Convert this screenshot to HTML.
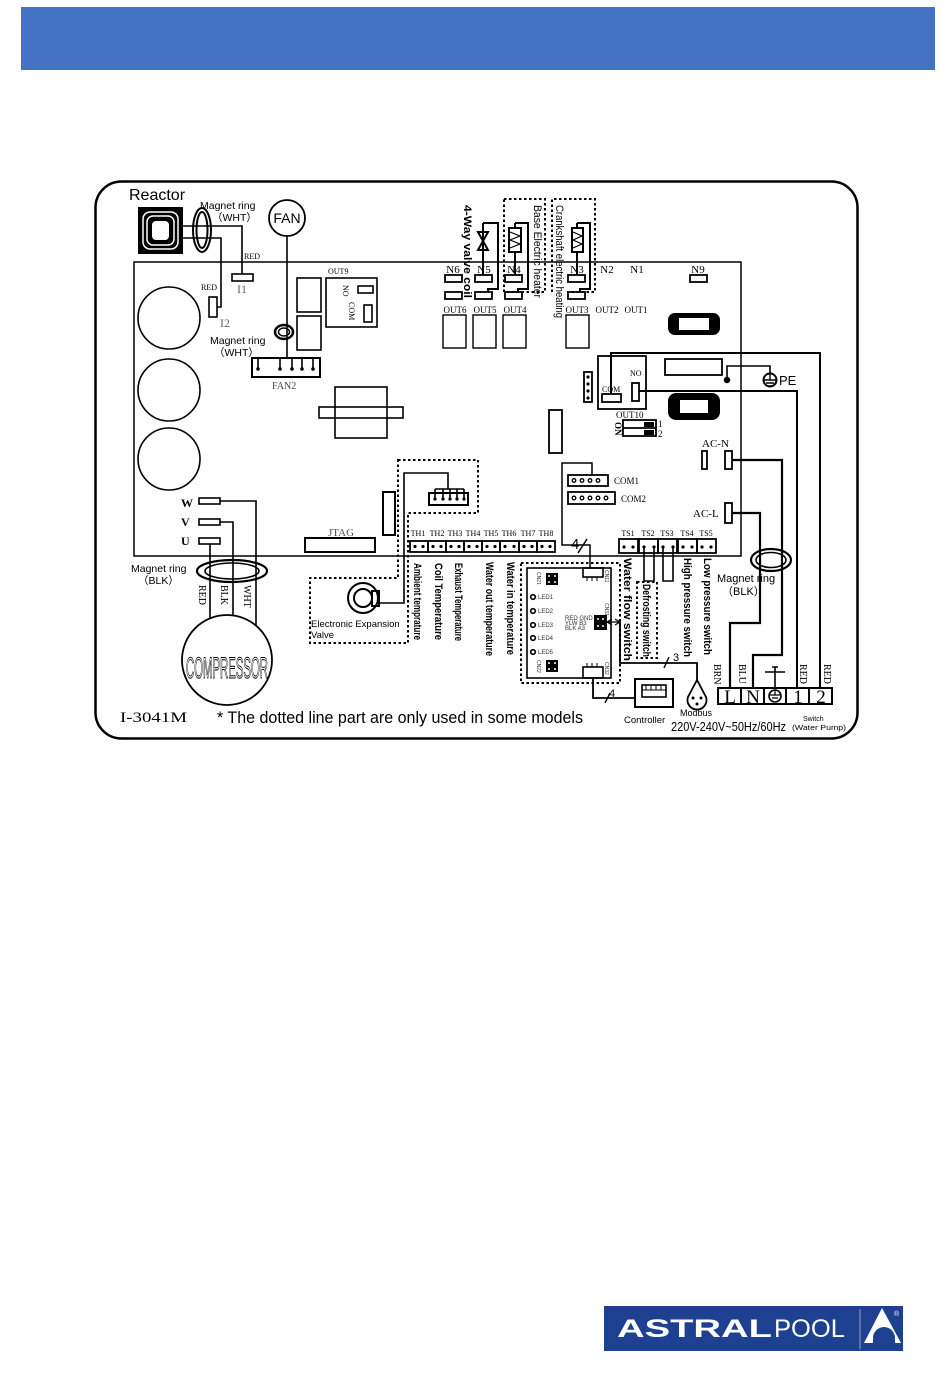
<!DOCTYPE html>
<html><head><meta charset="utf-8">
<style>
html,body{margin:0;padding:0;background:#fff;width:950px;height:1387px;overflow:hidden}
svg{display:block}
.sa{font-family:"Liberation Sans",sans-serif}
.se{font-family:"Liberation Serif",serif}
</style></head><body>
<svg width="950" height="1387" viewBox="0 0 950 1387" xmlns="http://www.w3.org/2000/svg">
<rect x="21" y="7" width="914" height="63" fill="#4472C4"/>

<!-- outer frame & PCB -->
<g fill="none" stroke="#000">
<rect x="95.5" y="181.5" width="762" height="557" rx="26" stroke-width="2.5"/>
<rect x="134" y="262" width="607" height="294" stroke-width="1.5"/>
</g>

<!-- Reactor -->
<text class="sa" x="129" y="200" font-size="16">Reactor</text>
<rect x="138" y="207" width="45" height="47" fill="#000"/>
<rect x="143" y="212" width="35" height="37" rx="7" fill="none" stroke="#fff" stroke-width="1.5"/>
<rect x="147" y="216" width="27" height="29" rx="6" fill="none" stroke="#fff" stroke-width="1.5"/>
<rect x="152" y="221" width="17" height="19" rx="4" fill="#fff"/>
<g fill="none" stroke="#000" stroke-width="1.6">
<path d="M183 226 H242 V274 M183 238 H221 V307 H217"/>
<ellipse cx="202" cy="230" rx="9" ry="22" stroke-width="2"/>
<ellipse cx="202" cy="230" rx="5.5" ry="18" stroke-width="2"/>
<circle cx="287" cy="218" r="18" stroke-width="1.8"/>
<path d="M287 236 V358"/>
<rect x="232" y="274" width="21" height="7"/>
<rect x="209" y="297" width="8" height="20"/>
</g>
<text class="sa" x="200" y="209" font-size="10.5">Magnet ring</text>
<text class="sa" x="212" y="221" font-size="10.5">（WHT）</text>
<text class="sa" x="287" y="223" font-size="14" text-anchor="middle">FAN</text>
<text class="se" x="244" y="259" font-size="8">RED</text>
<text class="se" x="201" y="290" font-size="8">RED</text>
<text class="se" x="237" y="293" font-size="12" fill="#666">I1</text>
<text class="se" x="220" y="327" font-size="12" fill="#666">I2</text>

<!-- capacitors -->
<g fill="none" stroke="#000" stroke-width="1.6">
<circle cx="169" cy="318" r="31"/>
<circle cx="169" cy="390" r="31"/>
<circle cx="169" cy="459" r="31"/>
<!-- relays near OUT9 -->
<rect x="297" y="278" width="24" height="34"/>
<rect x="297" y="316" width="24" height="34"/>
<rect x="326" y="278" width="51" height="49"/>
<rect x="358" y="286" width="15" height="7"/>
<rect x="364" y="305" width="8" height="17"/>
<ellipse cx="284" cy="332" rx="9" ry="7" stroke-width="2.5"/>
<ellipse cx="284" cy="332" rx="5.5" ry="4" stroke-width="1.5"/>
<rect x="252" y="358" width="68" height="19" stroke-width="2"/>
<path d="M258 358 V369 M280 358 V369 M292 358 V369 M302 358 V369 M313 358 V369"/>
<rect x="335" y="387" width="52" height="51"/>
<rect x="319" y="407" width="84" height="11"/>
</g>
<g fill="#000"><circle cx="258" cy="369" r="1.8"/><circle cx="280" cy="369" r="1.8"/><circle cx="292" cy="369" r="1.8"/><circle cx="302" cy="369" r="1.8"/><circle cx="313" cy="369" r="1.8"/></g>
<text class="se" x="328" y="274" font-size="8">OUT9</text>
<text class="se" font-size="8" transform="translate(343,285) rotate(90)">NO</text>
<text class="se" font-size="8" transform="translate(349,302) rotate(90)">COM</text>
<text class="sa" x="210" y="344" font-size="10.5">Magnet ring</text>
<text class="sa" x="214" y="356" font-size="10.5">（WHT）</text>
<text class="se" x="272" y="389" font-size="10" fill="#444">FAN2</text>

<!-- W V U -->
<text class="se" x="181" y="507" font-size="12" font-weight="bold">W</text>
<text class="se" x="181" y="526" font-size="12" font-weight="bold">V</text>
<text class="se" x="181" y="545" font-size="12" font-weight="bold">U</text>
<g fill="none" stroke="#000" stroke-width="1.6">
<rect x="199" y="498" width="21" height="6"/>
<rect x="199" y="519" width="21" height="6"/>
<rect x="199" y="538" width="21" height="6"/>
<path d="M220 501 H256 V626 M220 522 H233 V616 M210 544 V619"/>
<ellipse cx="232" cy="571" rx="35" ry="11" stroke-width="2.2"/>
<ellipse cx="232" cy="571" rx="27" ry="8" stroke-width="1.6"/>
<circle cx="227" cy="660" r="45" stroke-width="1.8"/>
<rect x="305" y="538" width="70" height="14" stroke-width="2"/>
<rect x="383" y="492" width="12" height="43" stroke-width="2"/>
</g>
<text class="sa" x="131" y="572" font-size="10.5">Magnet ring</text>
<text class="sa" x="138" y="584" font-size="10.5">（BLK）</text>
<text class="se" font-size="10" transform="translate(199,585) rotate(90)">RED</text>
<text class="se" font-size="10" transform="translate(221,585) rotate(90)">BLK</text>
<text class="se" font-size="10" transform="translate(244,585) rotate(90)">WHT</text>
<text class="sa" x="227" y="678" font-size="30" text-anchor="middle" textLength="82" lengthAdjust="spacingAndGlyphs" fill="#fff" stroke="#000" stroke-width="1">COMPRESSOR</text>
<text class="se" x="328" y="536" font-size="11" fill="#555">JTAG</text>

<!-- EEV dotted area -->
<path d="M398 460 H478 V513 H408 V643 H310 V578 H398 Z" fill="none" stroke="#000" stroke-width="2" stroke-dasharray="2.5,2.5"/>
<g fill="none" stroke="#000" stroke-width="1.6">
<rect x="429" y="493" width="39" height="12" stroke-width="2"/>
<path d="M435 489 H464 M435 489 V499 M443 489 V499 M450 489 V499 M457 489 V499 M464 489 V499"/>
<path d="M448 489 V473 H404 V603 H379"/>
<circle cx="363" cy="598" r="15" stroke-width="2"/>
<circle cx="363" cy="598" r="9" stroke-width="2"/>
<rect x="372" y="591" width="7" height="15" stroke-width="2"/>
</g>
<g fill="#000"><circle cx="435" cy="499" r="1.6"/><circle cx="443" cy="499" r="1.6"/><circle cx="450" cy="499" r="1.6"/><circle cx="457" cy="499" r="1.6"/><circle cx="464" cy="499" r="1.6"/></g>
<text class="sa" x="311" y="627" font-size="9.5">Electronic Expansion</text>
<text class="sa" x="311" y="638" font-size="9.5">Valve</text>

<!-- TH connectors -->
<g fill="none" stroke="#000" stroke-width="1.8">
<rect x="410" y="541" width="18" height="11"/><rect x="428" y="541" width="18" height="11"/>
<rect x="446" y="541" width="18" height="11"/><rect x="464" y="541" width="18" height="11"/>
<rect x="482" y="541" width="18" height="11"/><rect x="500" y="541" width="19" height="11"/>
<rect x="519" y="541" width="18" height="11"/><rect x="537" y="541" width="18" height="11"/>
</g>
<g fill="#000">
<circle cx="415" cy="546.5" r="1.6"/><circle cx="423" cy="546.5" r="1.6"/>
<circle cx="433" cy="546.5" r="1.6"/><circle cx="441" cy="546.5" r="1.6"/>
<circle cx="451" cy="546.5" r="1.6"/><circle cx="459" cy="546.5" r="1.6"/>
<circle cx="469" cy="546.5" r="1.6"/><circle cx="477" cy="546.5" r="1.6"/>
<circle cx="487" cy="546.5" r="1.6"/><circle cx="495" cy="546.5" r="1.6"/>
<circle cx="505" cy="546.5" r="1.6"/><circle cx="514" cy="546.5" r="1.6"/>
<circle cx="524" cy="546.5" r="1.6"/><circle cx="532" cy="546.5" r="1.6"/>
<circle cx="542" cy="546.5" r="1.6"/><circle cx="550" cy="546.5" r="1.6"/>
</g>
<g class="se" font-size="8" text-anchor="middle">
<text x="418" y="536">TH1</text><text x="437" y="536">TH2</text><text x="455" y="536">TH3</text><text x="473" y="536">TH4</text>
<text x="491" y="536">TH5</text><text x="509" y="536">TH6</text><text x="528" y="536">TH7</text><text x="546" y="536">TH8</text>
</g>
<g class="sa" font-size="11" font-weight="bold">
<text transform="translate(414,563) rotate(90)" textLength="77" lengthAdjust="spacingAndGlyphs">Ambient temprature</text>
<text transform="translate(435,563) rotate(90)" textLength="77" lengthAdjust="spacingAndGlyphs">Coil Temperature</text>
<text transform="translate(455,563) rotate(90)" textLength="78" lengthAdjust="spacingAndGlyphs">Exhaust Temperature</text>
<text transform="translate(486,562) rotate(90)" textLength="94" lengthAdjust="spacingAndGlyphs">Water out temperature</text>
<text transform="translate(507,562) rotate(90)" textLength="93" lengthAdjust="spacingAndGlyphs">Water in temperature</text>
<text transform="translate(624,558) rotate(90)" textLength="103" lengthAdjust="spacingAndGlyphs">Water flow switch</text>
<text transform="translate(643,584) rotate(90)" textLength="73" lengthAdjust="spacingAndGlyphs">Defrosting switch</text>
<text transform="translate(684,558) rotate(90)" textLength="99" lengthAdjust="spacingAndGlyphs">High pressure switch</text>
<text transform="translate(704,558) rotate(90)" textLength="97" lengthAdjust="spacingAndGlyphs">Low pressure switch</text>
<text transform="translate(464,205) rotate(90)" textLength="93" lengthAdjust="spacingAndGlyphs">4-Way valve coil</text>
<text transform="translate(534,205) rotate(90)" textLength="93" lengthAdjust="spacingAndGlyphs" font-weight="normal">Base Electric heater</text>
<text transform="translate(556,205) rotate(90)" textLength="113" lengthAdjust="spacingAndGlyphs" font-weight="normal">Crankshaft electric heating</text>
</g>

<!-- top N / OUT row -->
<g fill="none" stroke="#000" stroke-width="1.8">
<rect x="445" y="275" width="17" height="7"/><rect x="475" y="275" width="17" height="7"/>
<rect x="505" y="275" width="17" height="7"/><rect x="568" y="275" width="17" height="7"/>
<rect x="690" y="275" width="17" height="7"/>
<rect x="445" y="292" width="17" height="7"/><rect x="475" y="292" width="17" height="7"/>
<rect x="505" y="292" width="17" height="7"/><rect x="568" y="292" width="17" height="7"/>
</g>
<g fill="none" stroke="#000" stroke-width="1.4">
<rect x="443" y="315" width="23" height="33"/><rect x="473" y="315" width="23" height="33"/>
<rect x="503" y="315" width="23" height="33"/><rect x="566" y="315" width="23" height="33"/>
</g>
<g class="se" font-size="11" text-anchor="middle">
<text x="453" y="273">N6</text><text x="484" y="273">N5</text><text x="514" y="273">N4</text>
<text x="577" y="273">N3</text><text x="607" y="273">N2</text><text x="637" y="273">N1</text><text x="698" y="273">N9</text>
</g>
<g class="se" font-size="9" text-anchor="middle">
<text x="455" y="313">OUT6</text><text x="485" y="313">OUT5</text><text x="515" y="313">OUT4</text>
<text x="577" y="313">OUT3</text><text x="607" y="313">OUT2</text><text x="636" y="313">OUT1</text>
</g>
<g fill="none" stroke="#000" stroke-width="2">
<path d="M483 223 V275 M483 223 H498 V289 H488 V292"/>
<path d="M478 232 L488 250 L478 250 L488 232 Z"/>
<path d="M515 223 V275 M515 223 H528 V289 H518 V292"/>
<rect x="509" y="228" width="12" height="24" fill="#fff"/>
<path d="M510 232 L520 236 L510 240 L520 244 L510 248" stroke-width="1.2"/>
<path d="M577 223 V275 M577 223 H590 V289 H580 V292"/>
<rect x="572" y="228" width="11" height="24" fill="#fff"/>
<path d="M573 232 L582 236 L573 240 L582 244 L573 248" stroke-width="1.2"/>
</g>
<g fill="none" stroke="#000" stroke-width="2" stroke-dasharray="2.5,2.5">
<rect x="504" y="199" width="41" height="93"/>
<path d="M552 292 V199 H595 V292 H567"/>
</g>

<!-- fuses -->
<rect x="668" y="313" width="52" height="22" rx="7" fill="#000"/>
<rect x="679" y="318" width="30" height="12" fill="#fff"/>
<rect x="668" y="393" width="52" height="27" rx="8" fill="#000"/>
<rect x="680" y="400" width="28" height="13" fill="#fff"/>

<!-- right upper area -->
<g fill="none" stroke="#000" stroke-width="1.8">
<rect x="598" y="356" width="48" height="53"/>
<rect x="602" y="394" width="19" height="8"/>
<rect x="632" y="383" width="7" height="18"/>
<path d="M611 394 V353 H820 V688" stroke-width="2"/>
<path d="M639 391 H797 V688" stroke-width="2"/>
<rect x="665" y="359" width="57" height="16"/>
<path d="M727 380 V366 H770 V373" stroke-width="1.6"/>
<circle cx="770" cy="380" r="6.5" stroke-width="2"/>
<path d="M764 380 H776 M766 383 H774 M768 386 H772 M770 374 V380" stroke-width="1.4"/>
<rect x="584" y="372" width="8" height="30"/>
<rect x="549" y="410" width="13" height="43"/>
<rect x="623" y="420" width="33" height="16"/>
<path d="M623 428 H656"/>
<rect x="702" y="451" width="5" height="18"/>
<rect x="725" y="451" width="7" height="18"/>
<rect x="725" y="503" width="7" height="20"/>
<path d="M732 460 H782 V655 H753 V688" stroke-width="2.2"/>
<path d="M732 513 H760 V623 H730 V688" stroke-width="2.2"/>
<ellipse cx="771" cy="560" rx="20" ry="11" stroke-width="2.2"/>
<ellipse cx="771" cy="560" rx="15" ry="7.5" stroke-width="1.6"/>
</g>
<circle cx="727" cy="380" r="3.2" fill="#000"/>
<g fill="#000">
<circle cx="588" cy="377" r="1.6"/><circle cx="588" cy="384" r="1.6"/><circle cx="588" cy="391" r="1.6"/><circle cx="588" cy="398" r="1.6"/>
<rect x="644" y="422" width="10" height="5"/><rect x="644" y="430" width="10" height="5"/>
</g>
<text class="sa" x="779" y="385" font-size="13">PE</text>
<text class="se" x="602" y="392" font-size="8">COM</text>
<text class="se" x="630" y="376" font-size="8">NO</text>
<text class="se" x="616" y="418" font-size="9">OUT10</text>
<text class="se" font-size="9" font-weight="bold" transform="translate(615,422) rotate(90)">ON</text>
<text class="se" x="658" y="427" font-size="9">1</text>
<text class="se" x="658" y="437" font-size="9">2</text>
<text class="se" x="702" y="447" font-size="11">AC-N</text>
<text class="se" x="693" y="517" font-size="11">AC-L</text>

<!-- COM1 / COM2 -->
<g fill="none" stroke="#000" stroke-width="1.8">
<rect x="568" y="475" width="40" height="11"/>
<rect x="568" y="492" width="47" height="12"/>
<path d="M592 475 V463 H562 V545 H590 V568" stroke-width="1.5"/>
<path d="M578 553 L587 539" stroke-width="1.5"/>
</g>
<g fill="none" stroke="#000" stroke-width="1.3">
<circle cx="574" cy="480.5" r="1.8"/><circle cx="582" cy="480.5" r="1.8"/><circle cx="590" cy="480.5" r="1.8"/><circle cx="598" cy="480.5" r="1.8"/>
<circle cx="574" cy="498" r="1.8"/><circle cx="582" cy="498" r="1.8"/><circle cx="590" cy="498" r="1.8"/><circle cx="598" cy="498" r="1.8"/><circle cx="606" cy="498" r="1.8"/>
</g>
<text class="se" x="614" y="484" font-size="9">COM1</text>
<text class="se" x="621" y="502" font-size="9">COM2</text>
<text class="sa" x="571" y="549" font-size="15">4</text>

<!-- TS connectors -->
<g fill="none" stroke="#000" stroke-width="1.8">
<rect x="619" y="539" width="19" height="14"/><rect x="639" y="539" width="19" height="14"/>
<rect x="658" y="539" width="19" height="14"/><rect x="678" y="539" width="19" height="14"/>
<rect x="697" y="539" width="19" height="14"/>
<path d="M644 547 V581 H654 V547 M663 547 V581 H673 V547" stroke-width="1.6"/>
</g>
<g fill="#000">
<circle cx="624" cy="547" r="1.6"/><circle cx="633" cy="547" r="1.6"/>
<circle cx="644" cy="547" r="1.6"/><circle cx="654" cy="547" r="1.6"/>
<circle cx="663" cy="547" r="1.6"/><circle cx="673" cy="547" r="1.6"/>
<circle cx="683" cy="547" r="1.6"/><circle cx="692" cy="547" r="1.6"/>
<circle cx="702" cy="547" r="1.6"/><circle cx="711" cy="547" r="1.6"/>
</g>
<g class="se" font-size="8" text-anchor="middle">
<text x="628" y="536">TS1</text><text x="648" y="536">TS2</text><text x="667" y="536">TS3</text><text x="687" y="536">TS4</text><text x="706" y="536">TS5</text>
</g>
<rect x="637" y="582" width="20" height="76" fill="none" stroke="#000" stroke-width="2" stroke-dasharray="2.5,2.5"/>

<!-- controller board -->
<rect x="521" y="563" width="99" height="120" fill="none" stroke="#000" stroke-width="2" stroke-dasharray="2.5,2.5"/>
<g fill="none" stroke="#000" stroke-width="1.6">
<rect x="527" y="568" width="84" height="110"/>
<rect x="583" y="568" width="20" height="9"/>
<rect x="583" y="667" width="20" height="11"/>
<path d="M587 577 V581 M592 577 V581 M597 577 V581 M587 667 V663 M592 667 V663 M597 667 V663" stroke-width="1"/>
<path d="M607 622 H620 M612 619 L607 622 L612 625 M615 619 L620 622 L615 625" stroke-width="1.2"/>
<path d="M620 622 V663 H697 V680" stroke-width="1.8"/>
<path d="M593 678 V698 H635" stroke-width="1.8"/>
<path d="M664 668 L669 657 M605 703 L610 693" stroke-width="1.4"/>
</g>
<g fill="#000">
<rect x="546" y="573" width="12" height="12"/>
<rect x="546" y="660" width="12" height="12"/>
<rect x="594" y="615" width="13" height="15"/>
</g>
<g fill="#fff">
<circle cx="549" cy="576" r="1"/><circle cx="555" cy="576" r="1"/><circle cx="549" cy="582" r="1"/><circle cx="555" cy="582" r="1"/>
<circle cx="549" cy="663" r="1"/><circle cx="555" cy="663" r="1"/><circle cx="549" cy="669" r="1"/><circle cx="555" cy="669" r="1"/>
<circle cx="598" cy="619" r="1"/><circle cx="603" cy="619" r="1"/><circle cx="598" cy="626" r="1"/><circle cx="603" cy="626" r="1"/>
</g>
<g fill="none" stroke="#000" stroke-width="1.6">
<circle cx="533" cy="597" r="2.3"/><circle cx="533" cy="611" r="2.3"/><circle cx="533" cy="625" r="2.3"/><circle cx="533" cy="638" r="2.3"/><circle cx="533" cy="652" r="2.3"/>
</g>
<g class="sa" font-size="6" fill="#333">
<text x="538" y="599">LED1</text><text x="538" y="613">LED2</text><text x="538" y="627">LED3</text><text x="538" y="640">LED4</text><text x="538" y="654">LED5</text>
<text x="565" y="620">RED GND</text><text x="565" y="625">YLW  B3</text><text x="565" y="630">BLK  A3</text>
<text transform="translate(537,572) rotate(90)" font-size="5">CN21</text>
<text transform="translate(537,660) rotate(90)" font-size="5">CN22</text>
<text transform="translate(605,570) rotate(90)" font-size="5">CN11</text>
<text transform="translate(605,603) rotate(90)" font-size="5">CN31</text>
<text transform="translate(605,662) rotate(90)" font-size="5">CN32</text>
</g>

<!-- controller & modbus -->
<g fill="none" stroke="#000" stroke-width="2">
<rect x="635" y="679" width="38" height="28"/>
<rect x="642" y="685" width="24" height="12" stroke-width="1.6"/>
<path d="M646 685 V690 M651 685 V690 M656 685 V690 M661 685 V690 M642 690 H666" stroke-width="1"/>
<path d="M697 680 L688 697 A9.5 9.5 0 1 0 706 697 Z" stroke-width="1.8"/>
</g>
<g fill="#000"><circle cx="693" cy="698" r="1.5"/><circle cx="701" cy="698" r="1.5"/><circle cx="697" cy="704" r="1.5"/></g>
<text class="sa" x="673" y="661" font-size="11">3</text>
<text class="sa" x="609" y="697" font-size="11">4</text>
<text class="sa" x="624" y="723" font-size="9.5">Controller</text>
<text class="sa" x="680" y="716" font-size="9">Modbus</text>
<text class="sa" x="671" y="731" font-size="13" textLength="115" lengthAdjust="spacingAndGlyphs">220V-240V~50Hz/60Hz</text>
<text class="sa" x="803" y="721" font-size="7">Switch</text>
<text class="sa" x="792" y="730" font-size="7" textLength="54" lengthAdjust="spacingAndGlyphs">(Water Pump)</text>

<!-- magnet ring right text -->
<text class="sa" x="717" y="582" font-size="11">Magnet ring</text>
<text class="sa" x="722" y="595" font-size="11">（BLK）</text>

<!-- terminal block -->
<g fill="none" stroke="#000" stroke-width="2">
<rect x="718" y="688" width="114" height="16"/>
<path d="M741 688 V704 M764 688 V704 M786 688 V704 M809 688 V704"/>
<path d="M775 667 V688 M772 667 H778 M765 672 H785" stroke-width="1.6"/>
<circle cx="775" cy="696" r="6" stroke-width="1.6"/>
<path d="M770 695 H780 M772 698 H778 M775 690 V695" stroke-width="1.2"/>
</g>
<g class="se" font-size="19" text-anchor="middle">
<text x="730" y="703">L</text><text x="753" y="703">N</text><text x="798" y="703">1</text><text x="821" y="703">2</text>
</g>
<g class="se" font-size="10">
<text transform="translate(714,664) rotate(90)">BRN</text>
<text transform="translate(739,664) rotate(90)">BLU</text>
<text transform="translate(800,664) rotate(90)">RED</text>
<text transform="translate(824,664) rotate(90)">RED</text>
</g>

<!-- bottom notes -->
<text class="se" x="120" y="722" font-size="15" textLength="67" lengthAdjust="spacingAndGlyphs">I-3041M</text>
<text class="sa" x="217" y="723" font-size="17" textLength="366" lengthAdjust="spacingAndGlyphs">* The dotted line part are only used in some models</text>

<!-- logo -->
<rect x="604" y="1306" width="299" height="45" fill="#1d4190"/>
<text class="sa" x="617" y="1337" font-size="25" font-weight="bold" fill="#fff" textLength="155" lengthAdjust="spacingAndGlyphs">ASTRAL</text>
<text class="sa" x="774" y="1337" font-size="25" fill="#fff" textLength="71" lengthAdjust="spacingAndGlyphs">POOL</text>
<path d="M860 1309 V1349" stroke="#8fa3cc" stroke-width="1"/>
<path d="M882 1308 L901 1343 L864 1343 Z" fill="#fff"/>
<path d="M873 1343 L873 1338 A11 11 0 0 1 895 1338 L895 1343 Z" fill="#1d4190"/>
<text class="sa" x="894" y="1316" font-size="7" fill="#fff">®</text>
</svg>
</body></html>
